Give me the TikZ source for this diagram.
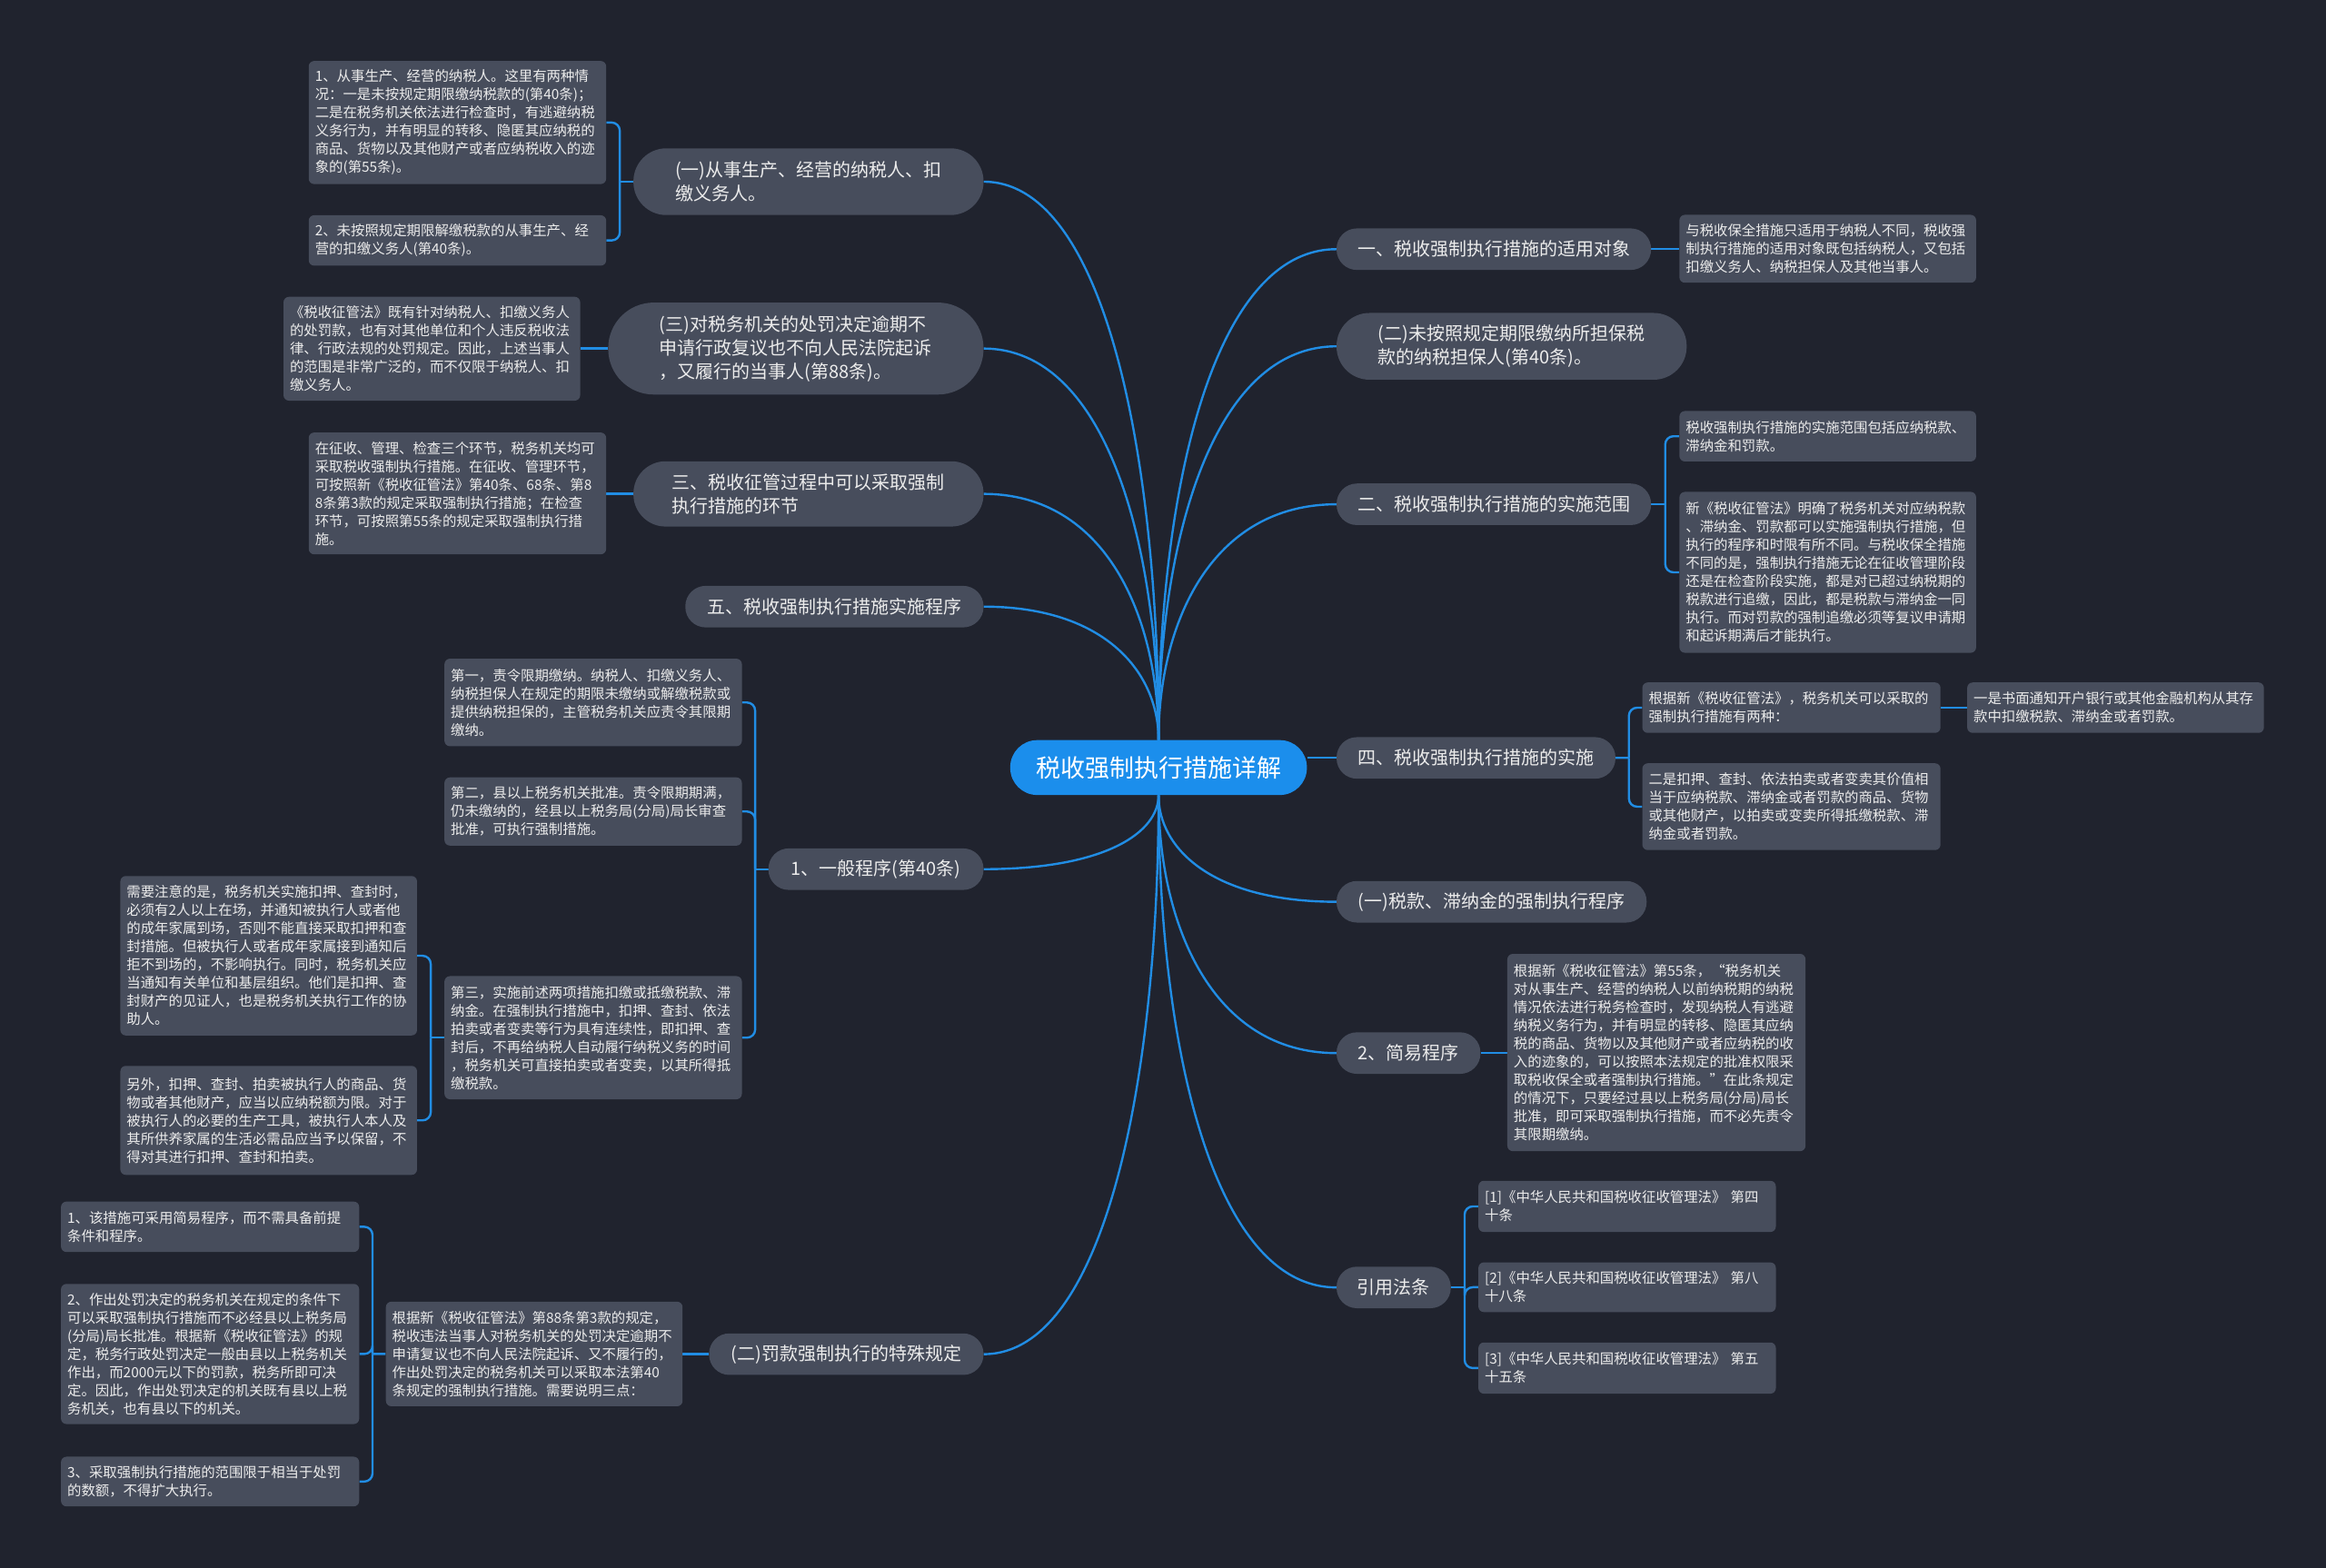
\documentclass[tikz,border=0pt]{standalone}
\usepackage{fontspec}
\setmainfont{Noto Sans CJK SC}
\usetikzlibrary{calc,backgrounds}
\definecolor{bgc}{RGB}{32,35,46}
\definecolor{nodefill}{RGB}{71,77,92}
\definecolor{txtc}{RGB}{236,236,236}
\definecolor{linec}{RGB}{33,141,228}
\definecolor{rootc}{RGB}{27,142,236}

\newcommand\pillnode[6]{%
  \pgfmathsetmacro\mypw{(#4-#2)*1.6327}%
  \pgfmathsetmacro\myph{(#5-#3)*1.6327}%
  \pgfmathsetmacro\mypr{\myph/2-0.5}%
  \node[pill, minimum width=\mypw pt, minimum height=\myph pt, rounded corners=\mypr pt] (#1) at ({(#2+#4)/2},{(#3+#5)/2}) {#6};%
}
\newcommand\leafnode[6]{%
  \pgfmathsetmacro\mylw{(#4-#2)*1.6327-14}%
  \pgfmathsetmacro\mylh{(#5-#3)*1.6327}%
  \node[leaf, text width=\mylw pt, minimum height=\mylh pt, anchor=north west] (#1) at (#2,#3) {#6};%
}
\newcommand\branchline[2]{\draw[conn] (#1) .. controls ($(#1)!0.5!(#1|-#2)$) and ($(#1|-#2)!0.3!(#2)$) .. (#2);}
% parent, child anchor, junction name
\newcommand\brk[3]{\draw[conn, rounded corners=9pt] (#3) |- (#2);}

\begin{document}
\begin{tikzpicture}[x=1.6327pt,y=-1.6327pt,
  leaf/.style={rectangle, fill=nodefill, rounded corners=6pt, inner xsep=7pt, inner ysep=2pt, align=left, text=txtc, font=\fontsize{15.4}{20}\selectfont},
  pill/.style={rectangle, fill=nodefill, inner sep=0pt, align=left, text=txtc, font=\fontsize{20}{26}\selectfont},
  root/.style={rectangle, fill=rootc, inner sep=0pt, text=white, font=\fontsize{27}{32}\selectfont},
  conn/.style={draw=linec, line width=2.4pt}
]
\useasboundingbox (0,0) rectangle (1568,1056.6);

% root
\node[root, minimum width=326.5pt, minimum height=60.4pt, rounded corners=29.7pt] (C) at (781,517.5) {税收强制执行措施详解};

% right branches
\pillnode{R1}{901}{154}{1113}{182}{一、税收强制执行措施的适用对象}
\pillnode{R2}{901}{211}{1137}{256}{(二)未按照规定期限缴纳所担保税\\款的纳税担保人(第40条)。}
\pillnode{R3}{901}{326}{1113}{354}{二、税收强制执行措施的实施范围}
\pillnode{R4}{901}{497}{1089}{525}{四、税收强制执行措施的实施}
\pillnode{R5}{901}{594}{1110}{622}{(一)税款、滞纳金的强制执行程序}
\pillnode{R6}{901}{696}{998}{724}{2、简易程序}
\pillnode{R7}{901}{854}{978}{882}{引用法条}

% left branches
\pillnode{L1}{427}{100}{663}{145}{(一)从事生产、经营的纳税人、扣\\缴义务人。}
\pillnode{L2}{410}{204}{663}{266}{(三)对税务机关的处罚决定逾期不\\申请行政复议也不向人民法院起诉\\，又履行的当事人(第88条)。}
\pillnode{L3}{427}{311}{663}{355}{三、税收征管过程中可以采取强制\\执行措施的环节}
\pillnode{L4}{462}{395}{663}{423}{五、税收强制执行措施实施程序}
\pillnode{L5}{518}{572}{663}{600}{1、一般程序(第40条)}
\pillnode{L6}{478}{899}{663}{927}{(二)罚款强制执行的特殊规定}

% leaves left
\leafnode{L1a}{208}{41}{408.5}{124}{1、从事生产、经营的纳税人。这里有两种情\\况：一是未按规定期限缴纳税款的(第40条)；\\二是在税务机关依法进行检查时，有逃避纳税\\义务行为，并有明显的转移、隐匿其应纳税的\\商品、货物以及其他财产或者应纳税收入的迹\\象的(第55条)。}
\leafnode{L1b}{208}{145}{408.5}{179}{2、未按照规定期限解缴税款的从事生产、经\\营的扣缴义务人(第40条)。}
\leafnode{L2a}{191}{200}{391}{270}{《税收征管法》既有针对纳税人、扣缴义务人\\的处罚款，也有对其他单位和个人违反税收法\\律、行政法规的处罚规定。因此，上述当事人\\的范围是非常广泛的，而不仅限于纳税人、扣\\缴义务人。}
\leafnode{L3a}{208}{291.5}{408.5}{373.6}{在征收、管理、检查三个环节，税务机关均可\\采取税收强制执行措施。在征收、管理环节，\\可按照新《税收征管法》第40条、68条、第8\\8条第3款的规定采取强制执行措施；在检查\\环节，可按照第55条的规定采取强制执行措\\施。}
\leafnode{L5a}{299.5}{444}{500}{503}{第一，责令限期缴纳。纳税人、扣缴义务人、\\纳税担保人在规定的期限未缴纳或解缴税款或\\提供纳税担保的，主管税务机关应责令其限期\\缴纳。}
\leafnode{L5b}{299.5}{524}{500}{570}{第二，县以上税务机关批准。责令限期期满，\\仍未缴纳的，经县以上税务局(分局)局长审查\\批准，可执行强制措施。}
\leafnode{L5c}{299.5}{658}{500}{741}{第三，实施前述两项措施扣缴或抵缴税款、滞\\纳金。在强制执行措施中，扣押、查封、依法\\拍卖或者变卖等行为具有连续性，即扣押、查\\封后，不再给纳税人自动履行纳税义务的时间\\，税务机关可直接拍卖或者变卖，以其所得抵\\缴税款。}
\leafnode{L5c1}{81}{590.5}{281}{698}{需要注意的是，税务机关实施扣押、查封时，\\必须有2人以上在场，并通知被执行人或者他\\的成年家属到场，否则不能直接采取扣押和查\\封措施。但被执行人或者成年家属接到通知后\\拒不到场的，不影响执行。同时，税务机关应\\当通知有关单位和基层组织。他们是扣押、查\\封财产的见证人，也是税务机关执行工作的协\\助人。}
\leafnode{L5c2}{81}{718.5}{281}{792}{另外，扣押、查封、拍卖被执行人的商品、货\\物或者其他财产，应当以应纳税额为限。对于\\被执行人的必要的生产工具，被执行人本人及\\其所供养家属的生活必需品应当予以保留，不\\得对其进行扣押、查封和拍卖。}
\leafnode{L6a}{260}{877.5}{460}{948}{根据新《税收征管法》第88条第3款的规定，\\税收违法当事人对税务机关的处罚决定逾期不\\申请复议也不向人民法院起诉、又不履行的，\\作出处罚决定的税务机关可以采取本法第40\\条规定的强制执行措施。需要说明三点：}
\leafnode{L6a1}{41}{810}{242}{844}{1、该措施可采用简易程序，而不需具备前提\\条件和程序。}
\leafnode{L6a2}{41}{865.5}{242}{960}{2、作出处罚决定的税务机关在规定的条件下\\可以采取强制执行措施而不必经县以上税务局\\(分局)局长批准。根据新《税收征管法》的规\\定，税务行政处罚决定一般由县以上税务机关\\作出，而2000元以下的罚款，税务所即可决\\定。因此，作出处罚决定的机关既有县以上税\\务机关，也有县以下的机关。}
\leafnode{L6a3}{41}{982}{242}{1015.5}{3、采取强制执行措施的范围限于相当于处罚\\的数额，不得扩大执行。}

% leaves right
\leafnode{R1a}{1132}{144.7}{1332}{190.5}{与税收保全措施只适用于纳税人不同，税收强\\制执行措施的适用对象既包括纳税人，又包括\\扣缴义务人、纳税担保人及其他当事人。}
\leafnode{R3a}{1132}{277}{1332}{311}{税收强制执行措施的实施范围包括应纳税款、\\滞纳金和罚款。}
\leafnode{R3b}{1132}{331.5}{1332}{440}{新《税收征管法》明确了税务机关对应纳税款\\、滞纳金、罚款都可以实施强制执行措施，但\\执行的程序和时限有所不同。与税收保全措施\\不同的是，强制执行措施无论在征收管理阶段\\还是在检查阶段实施，都是对已超过纳税期的\\税款进行追缴，因此，都是税款与滞纳金一同\\执行。而对罚款的强制追缴必须等复议申请期\\和起诉期满后才能执行。}
\leafnode{R4a}{1107}{460}{1308}{494}{根据新《税收征管法》，税务机关可以采取的\\强制执行措施有两种：}
\leafnode{R4a1}{1326}{460}{1526}{494}{一是书面通知开户银行或其他金融机构从其存\\款中扣缴税款、滞纳金或者罚款。}
\leafnode{R4b}{1107}{514.5}{1308}{573}{二是扣押、查封、依法拍卖或者变卖其价值相\\当于应纳税款、滞纳金或者罚款的商品、货物\\或其他财产，以拍卖或变卖所得抵缴税款、滞\\纳金或者罚款。}
\leafnode{R6a}{1016}{643}{1217}{776}{根据新《税收征管法》第55条，“税务机关\\对从事生产、经营的纳税人以前纳税期的纳税\\情况依法进行税务检查时，发现纳税人有逃避\\纳税义务行为，并有明显的转移、隐匿其应纳\\税的商品、货物以及其他财产或者应纳税的收\\入的迹象的，可以按照本法规定的批准权限采\\取税收保全或者强制执行措施。”在此条规定\\的情况下，只要经过县以上税务局(分局)局长\\批准，即可采取强制执行措施，而不必先责令\\其限期缴纳。}
\leafnode{R7a}{996.5}{796}{1197}{830.5}{[1]《中华人民共和国税收征收管理法》 第四\\十条}
\leafnode{R7b}{996.5}{851}{1197}{884.5}{[2]《中华人民共和国税收征收管理法》 第八\\十八条}
\leafnode{R7c}{996.5}{905}{1197}{939.5}{[3]《中华人民共和国税收征收管理法》 第五\\十五条}

\begin{scope}[on background layer]
\fill[bgc] (-3,-3) rectangle (1571,1060);
% main curves
\branchline{C.north}{R1.west}
\branchline{C.north}{R2.west}
\branchline{C.north}{R3.west}
\branchline{C.north}{L1.east}
\branchline{C.north}{L2.east}
\branchline{C.north}{L3.east}
\branchline{C.north}{L4.east}
\branchline{C.south}{R5.west}
\branchline{C.south}{R6.west}
\branchline{C.south}{R7.west}
\branchline{C.south}{L5.east}
\branchline{C.south}{L6.east}
\draw[conn] (R4.west) -- (R4.west -| C.east);

% single children
\draw[conn] (R1.east) -- (R1.east -| R1a.west);
\draw[conn] (R6.east) -- (R6.east -| R6a.west);
\draw[conn] (R4a.east) -- (R4a.east -| R4a1.west);
\draw[conn] (L2.west) -- (L2.west -| L2a.east);
\draw[conn] (L3.west) -- (L3.west -| L3a.east);
\draw[conn] (L6.west) -- (L6.west -| L6a.east);

% brackets
\coordinate (JL1) at ($(L1.west)!0.5!(L1.west -| L1a.east)$);
\draw[conn] (L1.west) -- (JL1);
\brk{L1}{L1a.east}{JL1}
\brk{L1}{L1b.east}{JL1}

\coordinate (JL5) at ($(L5.west)!0.5!(L5.west -| L5a.east)$);
\draw[conn] (L5.west) -- (JL5);
\brk{L5}{L5a.east}{JL5}
\brk{L5}{L5b.east}{JL5}
\brk{L5}{L5c.east}{JL5}

\coordinate (JL5c) at ($(L5c.west)!0.5!(L5c.west -| L5c1.east)$);
\draw[conn] (L5c.west) -- (JL5c);
\brk{L5c}{L5c1.east}{JL5c}
\brk{L5c}{L5c2.east}{JL5c}

\coordinate (JL6a) at ($(L6a.west)!0.5!(L6a.west -| L6a1.east)$);
\draw[conn] (L6a.west) -- (JL6a);
\brk{L6a}{L6a1.east}{JL6a}
\brk{L6a}{L6a2.east}{JL6a}
\brk{L6a}{L6a3.east}{JL6a}

\coordinate (JR3) at ($(R3.east)!0.5!(R3.east -| R3a.west)$);
\draw[conn] (R3.east) -- (JR3);
\brk{R3}{R3a.west}{JR3}
\brk{R3}{R3b.west}{JR3}

\coordinate (JR4) at ($(R4.east)!0.5!(R4.east -| R4a.west)$);
\draw[conn] (R4.east) -- (JR4);
\brk{R4}{R4a.west}{JR4}
\brk{R4}{R4b.west}{JR4}

\coordinate (JR7) at ($(R7.east)!0.5!(R7.east -| R7a.west)$);
\draw[conn] (R7.east) -- (JR7);
\brk{R7}{R7a.west}{JR7}
\brk{R7}{R7b.west}{JR7}
\brk{R7}{R7c.west}{JR7}
\end{scope}
\end{tikzpicture}
\end{document}
